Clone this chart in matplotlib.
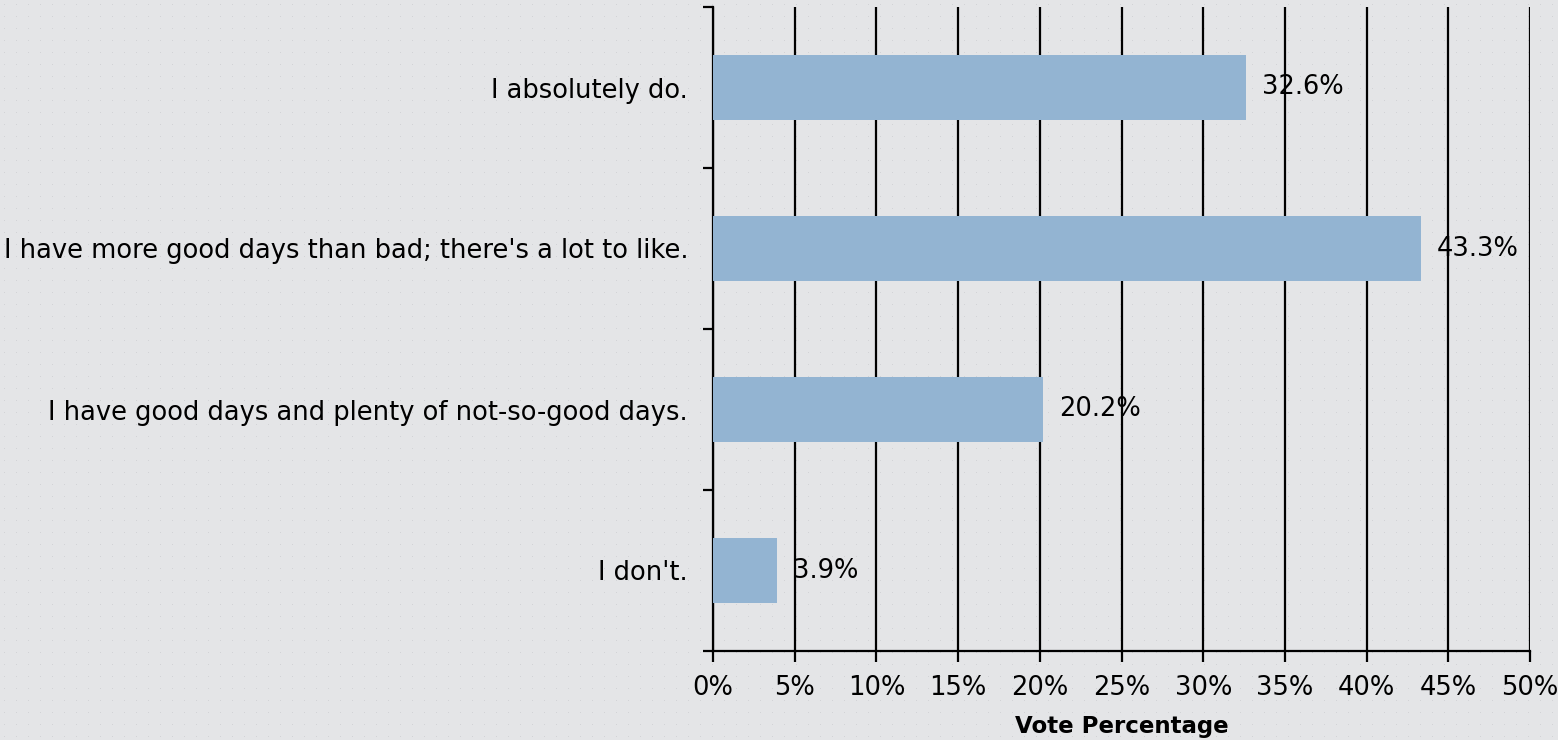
import numpy as np
import matplotlib
matplotlib.use("Agg")
import matplotlib.pyplot as plt
from matplotlib.ticker import MultipleLocator, FixedLocator, PercentFormatter

# survey answers, top to bottom
answers = [
    "I absolutely do.",
    "I have more good days than bad; there's a lot to like.",
    "I have good days and plenty of not-so-good days.",
    "I don't.",
]
votes = [32.6, 43.3, 20.2, 3.9]

bg = "#e4e5e7"
bar_color = "#93b4d2"
plt.rcParams["font.family"] = ["DejaVu Sans"]
fs = 18.5

fig = plt.figure(figsize=(15.58, 7.4), dpi=100, facecolor=bg)

# dotted backdrop texture
h, w = 740, 1558
tex = np.ones((h, w, 3)) * np.array([0xe4, 0xe5, 0xe7]) / 255.0
tex[4::12, 4::12] = np.array([0xd2, 0xd3, 0xd6]) / 255.0
fig.figimage(tex, 0, 0, zorder=-10)

ax = fig.add_axes([713 / 1558, 1 - 651 / 740, (1530 - 713) / 1558, (651 - 7) / 740])
ax.set_facecolor("none")

ypos = np.arange(len(answers))
ax.barh(ypos, votes, height=0.4, color=bar_color, zorder=3)
ax.set_ylim(len(answers) - 0.5, -0.5)
ax.set_xlim(0, 50)

for y, v in zip(ypos, votes):
    ax.text(v + 1.0, y, f"{v:.1f}%", va="center", ha="left", fontsize=fs, zorder=4)

ax.xaxis.set_major_locator(MultipleLocator(5))
ax.xaxis.set_major_formatter(PercentFormatter(decimals=0))
ax.grid(axis="x", color="black", linewidth=1.6, zorder=1)
ax.set_axisbelow(True)

# category labels without ticks, ticks on category borders
ax.set_yticks(ypos)
ax.set_yticklabels(answers, fontsize=fs)
ax.tick_params(axis="y", which="major", length=0, pad=18)
ax.yaxis.set_minor_locator(FixedLocator(np.arange(-0.5, len(answers), 1.0)))
ax.tick_params(axis="y", which="minor", length=7, width=1.6, color="black")
ax.tick_params(axis="x", length=8, width=1.6, labelsize=fs, pad=9)

for s in ["top", "right"]:
    ax.spines[s].set_visible(False)
for s in ["left", "bottom"]:
    ax.spines[s].set_linewidth(1.6)

ax.set_xlabel("Vote Percentage", fontsize=16.5, fontweight="bold", labelpad=10)

fig.savefig("out.png", dpi=100, facecolor=bg)
